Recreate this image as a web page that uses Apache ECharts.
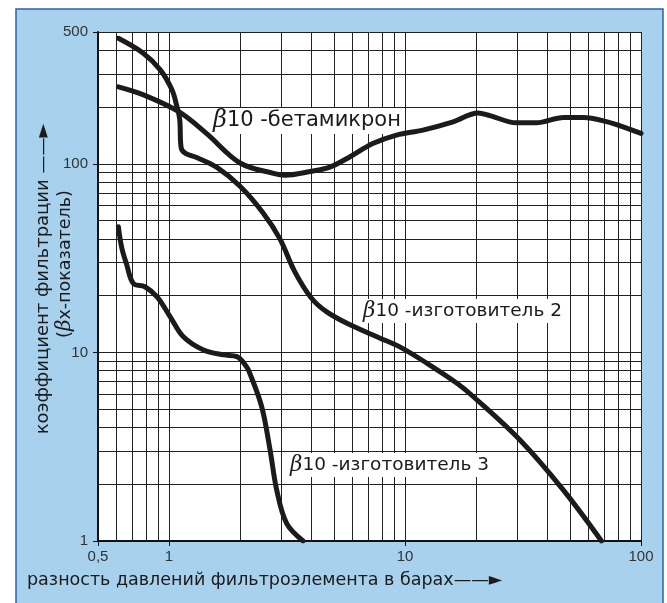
<!DOCTYPE html>
<html>
<head>
<meta charset="utf-8">
<script src="https://cdn.jsdelivr.net/npm/echarts@6/dist/echarts.min.js"></script>
<style>
html,body{margin:0;padding:0;background:#fff;}
#chart{width:667px;height:603px;}
</style>
</head>
<body>
<div id="chart"></div>
<script>
// ---- data ----
const betaMicron = [[0.61,256],[0.78,232],[1.1,189],[1.44,145],[2.0,101],[2.77,89],[3.1,87],[3.96,91],[4.8,96],[5.85,109],[7.3,128],[9.2,142],[11.9,151],[16,167],[20.4,186],[22.9,180],[29.7,165],[36,165],[47,176],[57,176],[72,167],[84,157],[100,145]];
const maker2 = [[0.61,463],[0.78,385],[0.92,314],[1.03,246],[1.08,201],[1.11,172],[1.125,122],[1.17,114],[1.31,108],[1.59,96],[2.0,76],[2.5,55],[2.95,40],[3.4,27],[4.0,19.5],[4.66,16.4],[5.85,14.0],[7.84,11.9],[9.5,10.7],[12.4,8.75],[16.6,6.86],[19.5,5.82],[30.7,3.43],[46.9,1.86],[68,1.0]];
const maker3 = [[0.61,46.4],[0.63,36],[0.66,29.5],[0.706,23.2],[0.79,22.3],[0.89,19.7],[1.01,15.5],[1.15,12.1],[1.40,10.3],[1.70,9.7],[1.94,9.5],[2.13,8.4],[2.2,7.75],[2.47,5.15],[2.68,3.04],[2.86,1.86],[3.15,1.24],[3.7,1.0]];
const xGridValues = [0.6,0.7,0.8,0.9,1,2,3,4,5,6,7,8,9,10,20,30,40,50,60,70,80,90,100];
const yGridValues = [2,3,4,5,6,7,8,9,10,20,30,40,50,60,70,80,90,100,200,300,400,500];
const xRange = [0.5, 100];
const yRange = [1, 500];
const seriesNames = ['β10 -бетамикрон', 'β10 -изготовитель 2', 'β10 -изготовитель 3'];
const xAxisTitle = 'разность давлений фильтроэлемента в барах——►';
const yAxisTitle1 = 'коэффициент фильтрации ——►';
const yAxisTitle2 = 'x-показатель)';

const chart = echarts.init(document.getElementById('chart'), null, {renderer: 'canvas'});

function fmt(v) {
  const r = Math.round(v * 10) / 10;
  return String(r).replace('.', ',');
}
function betaLabel(name) {
  return '{b|β}{t|' + name.slice(1) + '}';
}

const curveStyle = {color: '#1b1b1b', width: 5, cap: 'round', join: 'round'};
function richFor(size) {
  return {
    b: {fontFamily: 'DejaVu Serif', fontStyle: 'italic', fontSize: size + 3, fill: '#1b1b1b'},
    t: {fontFamily: 'DejaVu Sans', fontSize: size, fill: '#1b1b1b'}
  };
}

const option = {
  animation: false,
  backgroundColor: '#ffffff',
  grid: {left: 98, right: 26, top: 32, bottom: 62, containLabel: false, outerBoundsMode: 'none',
         show: true, backgroundColor: '#ffffff', borderWidth: 0},
  xAxis: {
    type: 'log', logBase: 10, min: xRange[0], max: xRange[1],
    axisLine: {show: true, lineStyle: {color: '#111', width: 2}},
    axisTick: {show: true, length: 5, lineStyle: {color: '#111'}},
    splitLine: {show: false},
    axisLabel: {formatter: fmt, color: '#333', fontFamily: 'Liberation Sans', fontSize: 15, margin: 8,
                showMinLabel: true, showMaxLabel: true}
  },
  yAxis: {
    type: 'log', logBase: 10, min: yRange[0], max: yRange[1],
    axisLine: {show: true, lineStyle: {color: '#111', width: 2}},
    axisTick: {show: true, length: 5, lineStyle: {color: '#111'}},
    splitLine: {show: false},
    axisLabel: {formatter: fmt, color: '#333', fontFamily: 'Liberation Sans', fontSize: 15, margin: 10,
                showMinLabel: true, showMaxLabel: true}
  },
  graphic: [
    {type: 'rect', z: -100, silent: true,
     shape: {x: 16, y: 9, width: 647, height: 600},
     style: {fill: '#a8d1ee', stroke: '#2f5fa8', lineWidth: 1.5}},
    // curve labels (white box hides the grid behind them, but stays under the curves)
    {type: 'text', z: 3, left: 210, top: 108,
     style: {text: betaLabel(seriesNames[0]), rich: richFor(21), backgroundColor: '#fff', padding: [1, 3]}},
    {type: 'text', z: 3, left: 360, top: 299,
     style: {text: betaLabel(seriesNames[1]), rich: richFor(18.5), backgroundColor: '#fff', padding: [1, 3]}},
    {type: 'text', z: 3, left: 287, top: 453,
     style: {text: betaLabel(seriesNames[2]), rich: richFor(18.5), backgroundColor: '#fff', padding: [1, 3]}},
    // axis titles
    {type: 'text', z: 100, x: 27, y: 580,
     style: {text: xAxisTitle, fontFamily: 'DejaVu Sans', fontSize: 17.5, fill: '#1b1b1b',
             textAlign: 'left', textVerticalAlign: 'middle'}},
    {type: 'text', z: 100, x: 43, y: 279, rotation: Math.PI / 2,
     style: {text: yAxisTitle1, fontFamily: 'DejaVu Sans', fontSize: 18, fill: '#1b1b1b',
             textAlign: 'center', textVerticalAlign: 'middle'}},
    {type: 'text', z: 100, x: 65, y: 264, rotation: Math.PI / 2,
     style: {text: '{c|(}{b|β}{c|' + yAxisTitle2 + '}', textAlign: 'center', textVerticalAlign: 'middle',
             rich: {
               c: {fontFamily: 'DejaVu Sans', fontSize: 17.5, fill: '#1b1b1b'},
               b: {fontFamily: 'DejaVu Serif', fontStyle: 'italic', fontSize: 20, fill: '#1b1b1b'}
             }}}
  ],
  series: [
    {
      type: 'line', data: [], z: 1, silent: true,
      markLine: {
        z: 1,
        silent: true, symbol: ['none', 'none'], label: {show: false},
        lineStyle: {type: 'solid', color: '#222', width: 1},
        emphasis: {disabled: true},
        data: xGridValues.map(v => ({xAxis: v})).concat(yGridValues.map(v => ({yAxis: v})))
      }
    },
    {name: seriesNames[0], type: 'line', data: betaMicron, z: 5, showSymbol: false, smooth: 0.35, lineStyle: curveStyle, itemStyle: {color: '#1b1b1b'}},
    {name: seriesNames[1], type: 'line', data: maker2, z: 5, showSymbol: false, smooth: 0.35, lineStyle: curveStyle, itemStyle: {color: '#1b1b1b'}},
    {name: seriesNames[2], type: 'line', data: maker3, z: 5, showSymbol: false, smooth: 0.35, lineStyle: curveStyle, itemStyle: {color: '#1b1b1b'}}
  ]
};
chart.setOption(option);
</script>
</body>
</html>
